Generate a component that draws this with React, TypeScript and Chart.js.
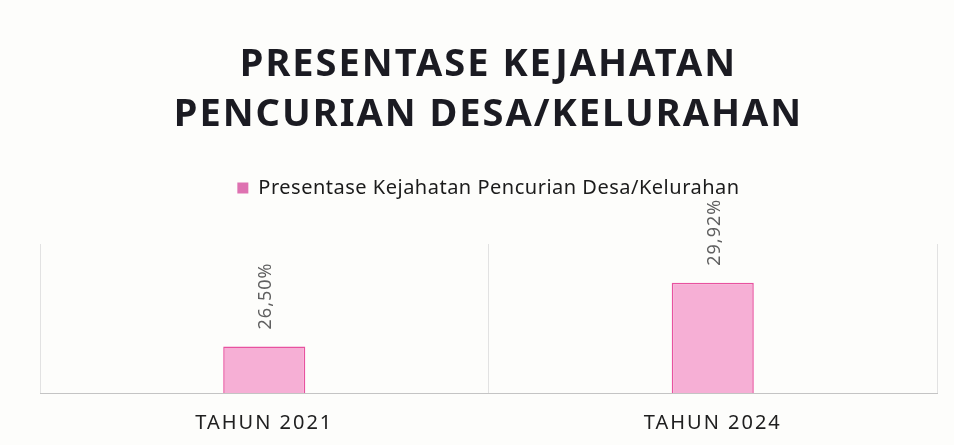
import React, { useEffect, useRef } from "react";
import { Chart, registerables } from "chart.js";

Chart.register(...registerables);

const titleLines = ["PRESENTASE KEJAHATAN", "PENCURIAN DESA/KELURAHAN"];
const categories = ["TAHUN 2021", "TAHUN 2024"];
const seriesName = "Presentase Kejahatan Pencurian Desa/Kelurahan";
const values = [26.5, 29.92];
const valueLabels = ["26,50%", "29,92%"];
const yMin = 24;
const yMax = 32;

const FONT = "'Noto Sans', 'DejaVu Sans', sans-serif";

const spacingPlugin = {
  id: "spacing",
  beforeUpdate(chart: any) {
    const lg = chart.legend;
    if (lg && !lg.__wrapped) {
      lg.__wrapped = true;
      const origDraw = lg.draw.bind(lg);
      lg.draw = (...args: any[]) => {
        const ctx = chart.ctx;
        const prev = ctx.letterSpacing;
        ctx.letterSpacing = "0.5px";
        origDraw(...args);
        ctx.letterSpacing = prev;
      };
      const origFit = lg.fit.bind(lg);
      lg.fit = (...args: any[]) => {
        const ctx = chart.ctx;
        const prev = ctx.letterSpacing;
        ctx.letterSpacing = "0.5px";
        origFit(...args);
        ctx.letterSpacing = prev;
        lg.height += 36;
      };
    }
  },
  beforeDraw(chart: any) {
    chart.ctx.letterSpacing = "2px";
  },
  afterDatasetsDraw(chart: any) {
    const ctx = chart.ctx;
    const meta = chart.getDatasetMeta(0);
    ctx.save();
    ctx.letterSpacing = "1px";
    ctx.font = `18px ${FONT}`;
    ctx.fillStyle = "#5f5f5f";
    ctx.textAlign = "left";
    ctx.textBaseline = "middle";
    meta.data.forEach((bar: any, i: number) => {
      ctx.save();
      ctx.translate(bar.x + 2, bar.y - 17);
      ctx.rotate(-Math.PI / 2);
      ctx.fillText(valueLabels[i], 0, 0);
      ctx.restore();
    });
    ctx.restore();
  },
  afterDraw(chart: any) {
    chart.ctx.letterSpacing = "0px";
  },
};

export default function App() {
  const ref = useRef<HTMLCanvasElement>(null);
  useEffect(() => {
    document.body.style.margin = "0";
    const chart = new Chart(ref.current!, {
      type: "bar",
      data: {
        labels: categories,
        datasets: [
          {
            label: seriesName,
            data: values,
            backgroundColor: "#F6AFD5",
            borderColor: "#E8529F",
            borderWidth: 1.5,
            borderSkipped: false,
            barPercentage: 0.183,
            categoryPercentage: 1,
          },
        ],
      },
      options: {
        responsive: false,
        animation: false,
        layout: { padding: { left: 40, right: 17, top: 0, bottom: 0 } },
        plugins: {
          title: {
            display: true,
            text: titleLines,
            color: "#1b1b22",
            font: { family: FONT, size: 38, weight: "bold", lineHeight: 50 / 38 },
            padding: { top: 40, bottom: 28 },
          },
          legend: {
            display: true,
            position: "top",
            labels: {
              color: "#1b1b1b",
              font: { family: FONT, size: 20 },
              boxWidth: 11,
              boxHeight: 11,
              padding: 10,
              generateLabels: (c: any) => {
                const l = Chart.defaults.plugins.legend.labels.generateLabels(c);
                l.forEach((it: any) => {
                  it.fillStyle = "#DE72B1";
                  it.strokeStyle = "#DE72B1";
                  it.lineWidth = 0;
                });
                return l;
              },
            },
          },
          tooltip: { enabled: false },
        },
        scales: {
          x: {
            grid: { display: true, offset: true, color: "#e2e2e2", drawTicks: false },
            border: { display: true, color: "#c4c4c4", width: 1 },
            ticks: {
              color: "#202020",
              font: { family: FONT, size: 20, lineHeight: 1 },
              padding: 20,
            },
            afterFit: (s: any) => {
              s.height = 52;
            },
          },
          y: {
            display: false,
            min: yMin,
            max: yMax,
          },
        },
      },
      plugins: [spacingPlugin],
    });
    chart.update();
    return () => chart.destroy();
  }, []);
  return (
    <div style={{ position: "absolute", left: 0, top: 0, width: 954, height: 445, background: "#fdfdfb" }}>
      <canvas ref={ref} width={954} height={445} />
    </div>
  );
}
